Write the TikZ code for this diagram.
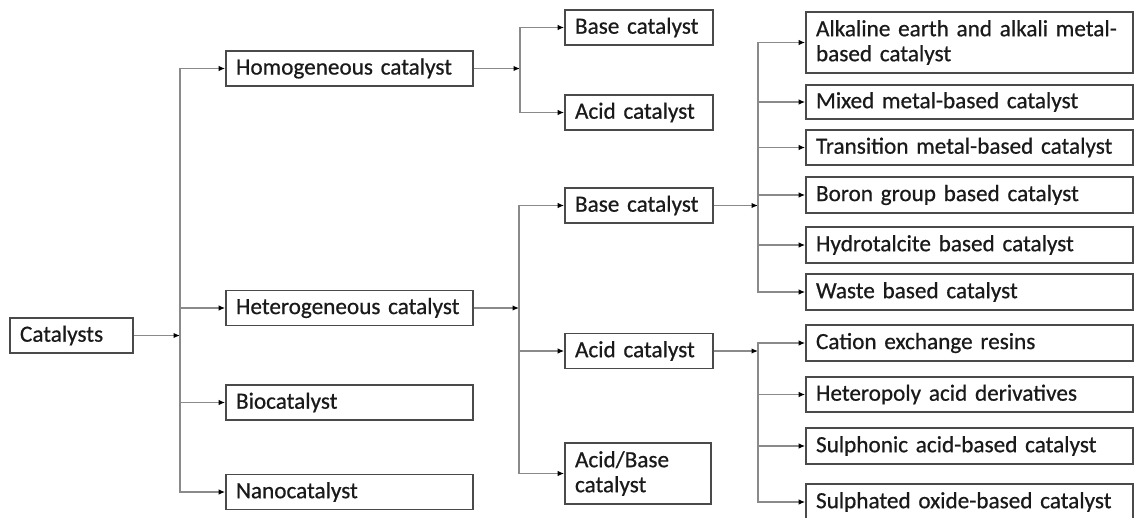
\documentclass[tikz,border=0pt]{standalone}
\usepackage{fontspec}
\setmainfont[FakeBold=0.6]{Carlito}
\usetikzlibrary{arrows.meta}
\definecolor{linec}{HTML}{8A8A8A}
\definecolor{boxc}{HTML}{4A4A4A}
\definecolor{txtc}{HTML}{1A1A1A}
\tikzset{
  box/.style={draw=boxc, line width=1.8pt, rectangle, inner xsep=10pt, inner ysep=0pt,
    align=left, text=txtc, font=\fontsize{23.2}{25}\selectfont, minimum height=35pt},
  conn/.style={draw=linec, line width=1.2pt, -{Latex[length=6.5pt,width=5.5pt,color=black]}},
  plain/.style={draw=linec, line width=1.2pt}
}
\begin{document}
\begin{tikzpicture}[x=1pt,y=-1pt]
\useasboundingbox[fill=white] (0,0) rectangle (1135,517);
% level 0
\node[box, minimum width=123pt, text width=103pt] (cat) at (71.5,335.5) {Catalysts};
% level 1
\node[box, minimum width=247pt, text width=227pt] (homo) at (349.5,68.5) {Homogeneous catalyst};
\node[box, minimum width=247pt, text width=227pt] (hetero) at (349.5,308) {Heterogeneous catalyst};
\node[box, minimum width=247pt, text width=227pt] (bio) at (349.5,402.5) {Biocatalyst};
\node[box, minimum width=247pt, text width=227pt] (nano) at (349.5,492) {Nanocatalyst};
% level 2
\node[box, minimum width=148pt, text width=128pt] (base1) at (639,27.5) {Base catalyst};
\node[box, minimum width=148pt, text width=128pt] (acid1) at (639,112.5) {Acid catalyst};
\node[box, minimum width=148pt, text width=128pt] (base2) at (639,205.5) {Base catalyst};
\node[box, minimum width=148pt, text width=128pt] (acid2) at (639,351) {Acid catalyst};
\node[box, minimum width=146pt, text width=126pt, minimum height=61pt] (ab) at (638,473.5) {Acid/Base\\catalyst};
% level 3
\node[box, minimum width=327pt, text width=307pt, minimum height=61pt] (alk) at (969.5,42.5) {Alkaline earth and alkali metal-\\based catalyst};
\node[box, minimum width=327pt, text width=307pt, minimum height=34pt] (mix) at (969.5,102) {Mixed metal-based catalyst};
\node[box, minimum width=327pt, text width=307pt] (trans) at (969.5,147.5) {Transition metal-based catalyst};
\node[box, minimum width=327pt, text width=307pt, minimum height=36pt] (boron) at (969.5,195) {Boron group based catalyst};
\node[box, minimum width=327pt, text width=307pt, minimum height=36pt] (hydro) at (969.5,245) {Hydrotalcite based catalyst};
\node[box, minimum width=327pt, text width=307pt, minimum height=36pt] (waste) at (969.5,292) {Waste based catalyst};
\node[box, minimum width=327pt, text width=307pt, minimum height=36pt] (cation) at (969.5,343) {Cation exchange resins};
\node[box, minimum width=327pt, text width=307pt] (hpa) at (969.5,394.5) {Heteropoly acid derivatives};
\node[box, minimum width=327pt, text width=307pt, minimum height=36pt] (sulphon) at (969.5,446) {Sulphonic acid-based catalyst};
\node[box, minimum width=327pt, text width=307pt, minimum height=36pt] (sulphat) at (969.5,502) {Sulphated oxide-based catalyst};
% junctions
\coordinate (j1) at (180,335.5);
\coordinate (j2) at (520,68.5);
\coordinate (j3) at (519,308);
\coordinate (j4) at (758,205.5);
\coordinate (j5) at (758,351);
% connectors
\draw[conn] (cat.east) -- (j1);
\draw[conn] (j1) |- (homo.west);
\draw[conn] (j1) |- (hetero.west);
\draw[conn] (j1) |- (bio.west);
\draw[conn] (j1) |- (nano.west);
\draw[conn] (homo.east) -- (j2);
\draw[conn] (j2) |- (base1.west);
\draw[conn] (j2) |- (acid1.west);
\draw[conn] (hetero.east) -- (j3);
\draw[conn] (j3) |- (base2.west);
\draw[conn] (j3) |- (acid2.west);
\draw[conn] (j3) |- (ab.west);
\draw[conn] (base2.east) -- (j4);
\draw[conn] (j4) |- (alk.west);
\draw[conn] (j4) |- (mix.west);
\draw[conn] (j4) |- (trans.west);
\draw[conn] (j4) |- (boron.west);
\draw[conn] (j4) |- (hydro.west);
\draw[conn] (j4) |- (waste.west);
\draw[conn] (acid2.east) -- (j5);
\draw[conn] (j5) |- (cation.west);
\draw[conn] (j5) |- (hpa.west);
\draw[conn] (j5) |- (sulphon.west);
\draw[conn] (j5) |- (sulphat.west);
\end{tikzpicture}
\end{document}
